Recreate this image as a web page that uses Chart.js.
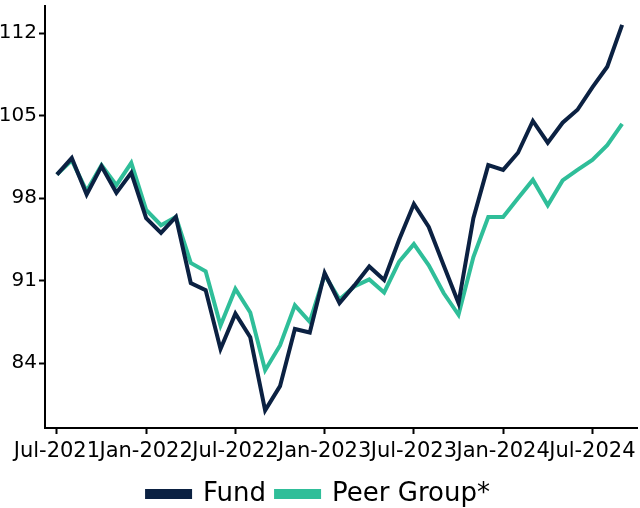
<!DOCTYPE html>
<html>
<head>
<meta charset="utf-8">
<script src="https://cdn.jsdelivr.net/npm/chart.js@4"></script>
<style>
  html, body { margin: 0; padding: 0; background: #fff; }
  #wrap { width: 640px; height: 508px; }
</style>
</head>
<body>
<div id="wrap"><canvas id="perfChart"></canvas></div>
<script>
// monthly, Jul-2021 .. Sep-2024
const months = ['Jul-2021','Aug-2021','Sep-2021','Oct-2021','Nov-2021','Dec-2021',
  'Jan-2022','Feb-2022','Mar-2022','Apr-2022','May-2022','Jun-2022',
  'Jul-2022','Aug-2022','Sep-2022','Oct-2022','Nov-2022','Dec-2022',
  'Jan-2023','Feb-2023','Mar-2023','Apr-2023','May-2023','Jun-2023',
  'Jul-2023','Aug-2023','Sep-2023','Oct-2023','Nov-2023','Dec-2023',
  'Jan-2024','Feb-2024','Mar-2024','Apr-2024','May-2024','Jun-2024',
  'Jul-2024','Aug-2024','Sep-2024'];

const fund = [100.0, 101.4, 98.3, 100.7, 98.45, 100.15,
  96.3, 95.05, 96.4, 90.8, 90.2, 85.2,
  88.2, 86.2, 80.0, 82.05, 86.9, 86.6,
  91.65, 89.1, 90.6, 92.2, 91.05, 94.45,
  97.5, 95.55, 92.3, 89.1, 96.3, 100.8,
  100.4, 101.85, 104.55, 102.7, 104.4, 105.5,
  107.4, 109.15, 112.7];

const peer = [100.0, 101.2, 98.6, 100.8, 99.1, 101.0,
  97.0, 95.7, 96.4, 92.5, 91.8, 87.2,
  90.3, 88.3, 83.4, 85.5, 88.9, 87.5,
  91.5, 89.4, 90.5, 91.1, 90.0, 92.6,
  94.1, 92.3, 89.95, 88.1, 93.0, 96.4,
  96.4, 98.0, 99.55, 97.4, 99.5, 100.4,
  101.25, 102.5, 104.3];

const xTicks = [0, 6, 12, 18, 24, 30, 36];
const yTicks = [84, 91, 98, 105, 112];

const fundColor = '#0b2142';
const peerColor = '#2fbe99';
const fontFamily = "'DejaVu Sans', sans-serif";

const ctx = document.getElementById('perfChart');

new Chart(ctx, {
  type: 'line',
  data: {
    datasets: [{
      label: 'Fund',
      data: fund.map((v, i) => ({ x: i, y: v })),
      borderColor: fundColor,
      backgroundColor: fundColor,
      borderWidth: 4,
      pointRadius: 0,
      tension: 0
    }, {
      label: 'Peer Group*',
      data: peer.map((v, i) => ({ x: i, y: v })),
      borderColor: peerColor,
      backgroundColor: peerColor,
      borderWidth: 4,
      pointRadius: 0,
      tension: 0
    }]
  },
  options: {
    responsive: true,
    maintainAspectRatio: false,
    animation: false,
    layout: { padding: { top: 6, right: 3, left: 0, bottom: -9 } },
    plugins: {
      tooltip: { enabled: false },
      legend: {
        position: 'bottom',
        labels: {
          color: '#000',
          font: { family: fontFamily, size: 26 },
          boxWidth: 43,
          boxHeight: 6,
          padding: 10
        }
      }
    },
    scales: {
      x: {
        type: 'linear',
        min: -0.8,
        max: 39,
        afterBuildTicks: axis => { axis.ticks = xTicks.map(v => ({ value: v })); },
        afterFit: axis => { axis.height = 43; axis.paddingLeft = 0; axis.paddingRight = 0; },
        border: { color: '#000', width: 2 },
        grid: { drawOnChartArea: false, drawTicks: true, tickLength: 6, tickColor: '#000', tickWidth: 2 },
        ticks: {
          autoSkip: false,
          maxRotation: 0,
          color: '#000',
          padding: 5,
          font: { family: fontFamily, size: 21 },
          callback: v => months[v]
        }
      },
      y: {
        min: 78.5,
        max: 114.3,
        afterBuildTicks: axis => { axis.ticks = yTicks.map(v => ({ value: v })); },
        afterFit: axis => { axis.width = 45; axis.paddingTop = 0; axis.paddingBottom = 0; },
        border: { color: '#000', width: 2 },
        grid: { drawOnChartArea: false, drawTicks: true, tickLength: 6, tickColor: '#000', tickWidth: 2 },
        ticks: {
          color: '#000',
          padding: 2,
          font: { family: fontFamily, size: 20 }
        }
      }
    }
  }
});
</script>
</body>
</html>
